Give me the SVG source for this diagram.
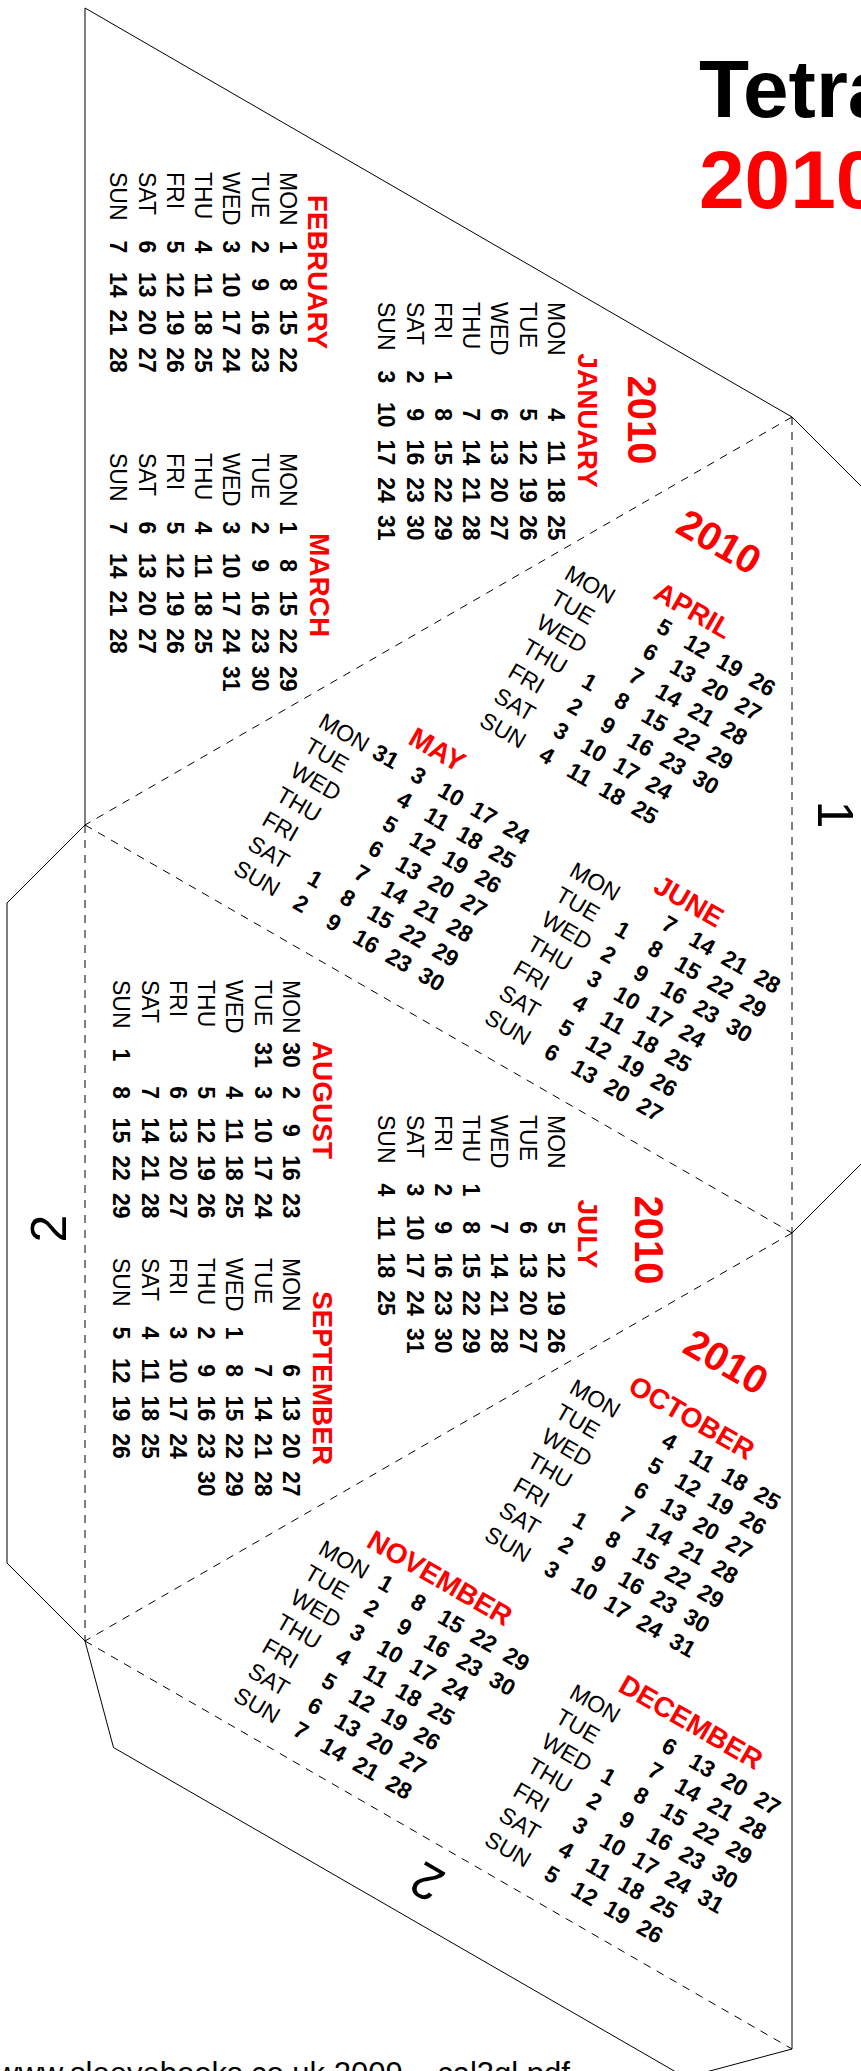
<svg xmlns="http://www.w3.org/2000/svg" width="861" height="2071" viewBox="0 0 861 2071">
<style>
.ln{fill:none;stroke:#000;stroke-width:1}
.fd{fill:none;stroke:#000;stroke-width:1;stroke-dasharray:8 7}
text{font-family:"Liberation Sans",Arial,sans-serif;fill:#000}
.wd{font-size:23px}
.nm{font-size:23px;font-weight:bold;text-anchor:middle}
.mo{font-size:28px;font-weight:bold;fill:#f00;text-anchor:middle}
.yr{font-size:40px;font-weight:bold;fill:#f00;text-anchor:middle}
.tab{font-size:50px;text-anchor:middle}
.ttl{font-size:82px;font-weight:bold}
</style>
<rect width="861" height="2071" fill="#fff"/>
<g id="connectors">
<polygon class="ln" points="85,8 792,417 870,495 870,1155 792,1233 792,2049 685.5,2077.5 113.5,1747.5 85,1641 7,1563 7,903 85,825"/>
<line class="fd" x1="792" y1="417" x2="85" y2="825"/>
<line class="fd" x1="792" y1="417" x2="792" y2="1233"/>
<line class="fd" x1="85" y1="825" x2="792" y2="1233"/>
<line class="fd" x1="85" y1="825" x2="85" y2="1641"/>
<line class="fd" x1="792" y1="1233" x2="85" y2="1641"/>
<line class="fd" x1="85" y1="1641" x2="792" y2="2049"/>
</g>
<g id="title">
<text class="ttl" x="699" y="116.7">Tetra</text>
<text class="ttl" x="699" y="208.3" fill="#f00" style="fill:#f00">2010</text>
</g>
<g id="tab-labels">
<text class="tab" transform="translate(818.3,814.6) rotate(90)">1</text>
<text class="tab" transform="translate(66.4,1228.5) rotate(-90)">2</text>
<text class="tab" transform="translate(435.7,1867) rotate(210)">2</text>
</g>
<g id="footer"><text x="-4" y="2084" font-size="31">www.sleevebooks.co.uk 2009 – cal3gl.pdf</text></g>

<g id="face1">
<g id="jan" transform="translate(548,302) rotate(90)">
<text class="yr" x="118" y="-80">2010</text>
<text class="mo" x="118.5" y="-30">JANUARY</text>
<text class="wd"><tspan x="0" y="0">MON</tspan><tspan x="0" y="28.3">TUE</tspan><tspan x="0" y="56.6">WED</tspan><tspan x="0" y="84.9">THU</tspan><tspan x="0" y="113.2">FRI</tspan><tspan x="0" y="141.5">SAT</tspan><tspan x="0" y="169.8">SUN</tspan></text>
<text class="nm" y="0"><tspan x="112.7">4</tspan><tspan x="150.4">11</tspan><tspan x="188.1">18</tspan><tspan x="225.8">25</tspan></text>
<text class="nm" y="28.3"><tspan x="112.7">5</tspan><tspan x="150.4">12</tspan><tspan x="188.1">19</tspan><tspan x="225.8">26</tspan></text>
<text class="nm" y="56.6"><tspan x="112.7">6</tspan><tspan x="150.4">13</tspan><tspan x="188.1">20</tspan><tspan x="225.8">27</tspan></text>
<text class="nm" y="84.9"><tspan x="112.7">7</tspan><tspan x="150.4">14</tspan><tspan x="188.1">21</tspan><tspan x="225.8">28</tspan></text>
<text class="nm" y="113.2"><tspan x="75">1</tspan><tspan x="112.7">8</tspan><tspan x="150.4">15</tspan><tspan x="188.1">22</tspan><tspan x="225.8">29</tspan></text>
<text class="nm" y="141.5"><tspan x="75">2</tspan><tspan x="112.7">9</tspan><tspan x="150.4">16</tspan><tspan x="188.1">23</tspan><tspan x="225.8">30</tspan></text>
<text class="nm" y="169.8"><tspan x="75">3</tspan><tspan x="112.7">10</tspan><tspan x="150.4">17</tspan><tspan x="188.1">24</tspan><tspan x="225.8">31</tspan></text>
</g>
<g id="feb" transform="translate(280,172) rotate(90)">
<text class="mo" x="100" y="-28">FEBRUARY</text>
<text class="wd"><tspan x="0" y="0">MON</tspan><tspan x="0" y="28.3">TUE</tspan><tspan x="0" y="56.6">WED</tspan><tspan x="0" y="84.9">THU</tspan><tspan x="0" y="113.2">FRI</tspan><tspan x="0" y="141.5">SAT</tspan><tspan x="0" y="169.8">SUN</tspan></text>
<text class="nm" y="0"><tspan x="75">1</tspan><tspan x="112.7">8</tspan><tspan x="150.4">15</tspan><tspan x="188.1">22</tspan></text>
<text class="nm" y="28.3"><tspan x="75">2</tspan><tspan x="112.7">9</tspan><tspan x="150.4">16</tspan><tspan x="188.1">23</tspan></text>
<text class="nm" y="56.6"><tspan x="75">3</tspan><tspan x="112.7">10</tspan><tspan x="150.4">17</tspan><tspan x="188.1">24</tspan></text>
<text class="nm" y="84.9"><tspan x="75">4</tspan><tspan x="112.7">11</tspan><tspan x="150.4">18</tspan><tspan x="188.1">25</tspan></text>
<text class="nm" y="113.2"><tspan x="75">5</tspan><tspan x="112.7">12</tspan><tspan x="150.4">19</tspan><tspan x="188.1">26</tspan></text>
<text class="nm" y="141.5"><tspan x="75">6</tspan><tspan x="112.7">13</tspan><tspan x="150.4">20</tspan><tspan x="188.1">27</tspan></text>
<text class="nm" y="169.8"><tspan x="75">7</tspan><tspan x="112.7">14</tspan><tspan x="150.4">21</tspan><tspan x="188.1">28</tspan></text>
</g>
<g id="mar" transform="translate(280,453) rotate(90)">
<text class="mo" x="132" y="-30">MARCH</text>
<text class="wd"><tspan x="0" y="0">MON</tspan><tspan x="0" y="28.3">TUE</tspan><tspan x="0" y="56.6">WED</tspan><tspan x="0" y="84.9">THU</tspan><tspan x="0" y="113.2">FRI</tspan><tspan x="0" y="141.5">SAT</tspan><tspan x="0" y="169.8">SUN</tspan></text>
<text class="nm" y="0"><tspan x="75">1</tspan><tspan x="112.7">8</tspan><tspan x="150.4">15</tspan><tspan x="188.1">22</tspan><tspan x="225.8">29</tspan></text>
<text class="nm" y="28.3"><tspan x="75">2</tspan><tspan x="112.7">9</tspan><tspan x="150.4">16</tspan><tspan x="188.1">23</tspan><tspan x="225.8">30</tspan></text>
<text class="nm" y="56.6"><tspan x="75">3</tspan><tspan x="112.7">10</tspan><tspan x="150.4">17</tspan><tspan x="188.1">24</tspan><tspan x="225.8">31</tspan></text>
<text class="nm" y="84.9"><tspan x="75">4</tspan><tspan x="112.7">11</tspan><tspan x="150.4">18</tspan><tspan x="188.1">25</tspan></text>
<text class="nm" y="113.2"><tspan x="75">5</tspan><tspan x="112.7">12</tspan><tspan x="150.4">19</tspan><tspan x="188.1">26</tspan></text>
<text class="nm" y="141.5"><tspan x="75">6</tspan><tspan x="112.7">13</tspan><tspan x="150.4">20</tspan><tspan x="188.1">27</tspan></text>
<text class="nm" y="169.8"><tspan x="75">7</tspan><tspan x="112.7">14</tspan><tspan x="150.4">21</tspan><tspan x="188.1">28</tspan></text>
</g>
</g>

<g id="face2">
<g id="apr" transform="translate(563,578) rotate(30)">
<text class="yr" x="117" y="-95.7">2010</text>
<text class="mo" x="129" y="-27.5">APRIL</text>
<text class="wd"><tspan x="0" y="0">MON</tspan><tspan x="0" y="28.3">TUE</tspan><tspan x="0" y="56.6">WED</tspan><tspan x="0" y="84.9">THU</tspan><tspan x="0" y="113.2">FRI</tspan><tspan x="0" y="141.5">SAT</tspan><tspan x="0" y="169.8">SUN</tspan></text>
<text class="nm" y="0"><tspan x="112.7">5</tspan><tspan x="150.4">12</tspan><tspan x="188.1">19</tspan><tspan x="225.8">26</tspan></text>
<text class="nm" y="28.3"><tspan x="112.7">6</tspan><tspan x="150.4">13</tspan><tspan x="188.1">20</tspan><tspan x="225.8">27</tspan></text>
<text class="nm" y="56.6"><tspan x="112.7">7</tspan><tspan x="150.4">14</tspan><tspan x="188.1">21</tspan><tspan x="225.8">28</tspan></text>
<text class="nm" y="84.9"><tspan x="75">1</tspan><tspan x="112.7">8</tspan><tspan x="150.4">15</tspan><tspan x="188.1">22</tspan><tspan x="225.8">29</tspan></text>
<text class="nm" y="113.2"><tspan x="75">2</tspan><tspan x="112.7">9</tspan><tspan x="150.4">16</tspan><tspan x="188.1">23</tspan><tspan x="225.8">30</tspan></text>
<text class="nm" y="141.5"><tspan x="75">3</tspan><tspan x="112.7">10</tspan><tspan x="150.4">17</tspan><tspan x="188.1">24</tspan></text>
<text class="nm" y="169.8"><tspan x="75">4</tspan><tspan x="112.7">11</tspan><tspan x="150.4">18</tspan><tspan x="188.1">25</tspan></text>
</g>
<g id="may" transform="translate(317,726) rotate(30)">
<text class="mo" x="116" y="-30">MAY</text>
<text class="wd"><tspan x="0" y="0">MON</tspan><tspan x="0" y="28.3">TUE</tspan><tspan x="0" y="56.6">WED</tspan><tspan x="0" y="84.9">THU</tspan><tspan x="0" y="113.2">FRI</tspan><tspan x="0" y="141.5">SAT</tspan><tspan x="0" y="169.8">SUN</tspan></text>
<text class="nm" y="0"><tspan x="75">31</tspan><tspan x="112.7">3</tspan><tspan x="150.4">10</tspan><tspan x="188.1">17</tspan><tspan x="225.8">24</tspan></text>
<text class="nm" y="28.3"><tspan x="112.7">4</tspan><tspan x="150.4">11</tspan><tspan x="188.1">18</tspan><tspan x="225.8">25</tspan></text>
<text class="nm" y="56.6"><tspan x="112.7">5</tspan><tspan x="150.4">12</tspan><tspan x="188.1">19</tspan><tspan x="225.8">26</tspan></text>
<text class="nm" y="84.9"><tspan x="112.7">6</tspan><tspan x="150.4">13</tspan><tspan x="188.1">20</tspan><tspan x="225.8">27</tspan></text>
<text class="nm" y="113.2"><tspan x="112.7">7</tspan><tspan x="150.4">14</tspan><tspan x="188.1">21</tspan><tspan x="225.8">28</tspan></text>
<text class="nm" y="141.5"><tspan x="75">1</tspan><tspan x="112.7">8</tspan><tspan x="150.4">15</tspan><tspan x="188.1">22</tspan><tspan x="225.8">29</tspan></text>
<text class="nm" y="169.8"><tspan x="75">2</tspan><tspan x="112.7">9</tspan><tspan x="150.4">16</tspan><tspan x="188.1">23</tspan><tspan x="225.8">30</tspan></text>
</g>
<g id="jun" transform="translate(568,875) rotate(30)">
<text class="mo" x="118" y="-28">JUNE</text>
<text class="wd"><tspan x="0" y="0">MON</tspan><tspan x="0" y="28.3">TUE</tspan><tspan x="0" y="56.6">WED</tspan><tspan x="0" y="84.9">THU</tspan><tspan x="0" y="113.2">FRI</tspan><tspan x="0" y="141.5">SAT</tspan><tspan x="0" y="169.8">SUN</tspan></text>
<text class="nm" y="0"><tspan x="112.7">7</tspan><tspan x="150.4">14</tspan><tspan x="188.1">21</tspan><tspan x="225.8">28</tspan></text>
<text class="nm" y="28.3"><tspan x="75">1</tspan><tspan x="112.7">8</tspan><tspan x="150.4">15</tspan><tspan x="188.1">22</tspan><tspan x="225.8">29</tspan></text>
<text class="nm" y="56.6"><tspan x="75">2</tspan><tspan x="112.7">9</tspan><tspan x="150.4">16</tspan><tspan x="188.1">23</tspan><tspan x="225.8">30</tspan></text>
<text class="nm" y="84.9"><tspan x="75">3</tspan><tspan x="112.7">10</tspan><tspan x="150.4">17</tspan><tspan x="188.1">24</tspan></text>
<text class="nm" y="113.2"><tspan x="75">4</tspan><tspan x="112.7">11</tspan><tspan x="150.4">18</tspan><tspan x="188.1">25</tspan></text>
<text class="nm" y="141.5"><tspan x="75">5</tspan><tspan x="112.7">12</tspan><tspan x="150.4">19</tspan><tspan x="188.1">26</tspan></text>
<text class="nm" y="169.8"><tspan x="75">6</tspan><tspan x="112.7">13</tspan><tspan x="150.4">20</tspan><tspan x="188.1">27</tspan></text>
</g>
</g>

<g id="face3">
<g id="jul" transform="translate(548,1115) rotate(90)">
<text class="yr" x="125" y="-87">2010</text>
<text class="mo" x="119" y="-30">JULY</text>
<text class="wd"><tspan x="0" y="0">MON</tspan><tspan x="0" y="28.3">TUE</tspan><tspan x="0" y="56.6">WED</tspan><tspan x="0" y="84.9">THU</tspan><tspan x="0" y="113.2">FRI</tspan><tspan x="0" y="141.5">SAT</tspan><tspan x="0" y="169.8">SUN</tspan></text>
<text class="nm" y="0"><tspan x="112.7">5</tspan><tspan x="150.4">12</tspan><tspan x="188.1">19</tspan><tspan x="225.8">26</tspan></text>
<text class="nm" y="28.3"><tspan x="112.7">6</tspan><tspan x="150.4">13</tspan><tspan x="188.1">20</tspan><tspan x="225.8">27</tspan></text>
<text class="nm" y="56.6"><tspan x="112.7">7</tspan><tspan x="150.4">14</tspan><tspan x="188.1">21</tspan><tspan x="225.8">28</tspan></text>
<text class="nm" y="84.9"><tspan x="75">1</tspan><tspan x="112.7">8</tspan><tspan x="150.4">15</tspan><tspan x="188.1">22</tspan><tspan x="225.8">29</tspan></text>
<text class="nm" y="113.2"><tspan x="75">2</tspan><tspan x="112.7">9</tspan><tspan x="150.4">16</tspan><tspan x="188.1">23</tspan><tspan x="225.8">30</tspan></text>
<text class="nm" y="141.5"><tspan x="75">3</tspan><tspan x="112.7">10</tspan><tspan x="150.4">17</tspan><tspan x="188.1">24</tspan><tspan x="225.8">31</tspan></text>
<text class="nm" y="169.8"><tspan x="75">4</tspan><tspan x="112.7">11</tspan><tspan x="150.4">18</tspan><tspan x="188.1">25</tspan></text>
</g>
<g id="aug" transform="translate(283,980) rotate(90)">
<text class="mo" x="120" y="-30">AUGUST</text>
<text class="wd"><tspan x="0" y="0">MON</tspan><tspan x="0" y="28.3">TUE</tspan><tspan x="0" y="56.6">WED</tspan><tspan x="0" y="84.9">THU</tspan><tspan x="0" y="113.2">FRI</tspan><tspan x="0" y="141.5">SAT</tspan><tspan x="0" y="169.8">SUN</tspan></text>
<text class="nm" y="0"><tspan x="75">30</tspan><tspan x="112.7">2</tspan><tspan x="150.4">9</tspan><tspan x="188.1">16</tspan><tspan x="225.8">23</tspan></text>
<text class="nm" y="28.3"><tspan x="75">31</tspan><tspan x="112.7">3</tspan><tspan x="150.4">10</tspan><tspan x="188.1">17</tspan><tspan x="225.8">24</tspan></text>
<text class="nm" y="56.6"><tspan x="112.7">4</tspan><tspan x="150.4">11</tspan><tspan x="188.1">18</tspan><tspan x="225.8">25</tspan></text>
<text class="nm" y="84.9"><tspan x="112.7">5</tspan><tspan x="150.4">12</tspan><tspan x="188.1">19</tspan><tspan x="225.8">26</tspan></text>
<text class="nm" y="113.2"><tspan x="112.7">6</tspan><tspan x="150.4">13</tspan><tspan x="188.1">20</tspan><tspan x="225.8">27</tspan></text>
<text class="nm" y="141.5"><tspan x="112.7">7</tspan><tspan x="150.4">14</tspan><tspan x="188.1">21</tspan><tspan x="225.8">28</tspan></text>
<text class="nm" y="169.8"><tspan x="75">1</tspan><tspan x="112.7">8</tspan><tspan x="150.4">15</tspan><tspan x="188.1">22</tspan><tspan x="225.8">29</tspan></text>
</g>
<g id="sep" transform="translate(283,1258) rotate(90)">
<text class="mo" x="120" y="-30">SEPTEMBER</text>
<text class="wd"><tspan x="0" y="0">MON</tspan><tspan x="0" y="28.3">TUE</tspan><tspan x="0" y="56.6">WED</tspan><tspan x="0" y="84.9">THU</tspan><tspan x="0" y="113.2">FRI</tspan><tspan x="0" y="141.5">SAT</tspan><tspan x="0" y="169.8">SUN</tspan></text>
<text class="nm" y="0"><tspan x="112.7">6</tspan><tspan x="150.4">13</tspan><tspan x="188.1">20</tspan><tspan x="225.8">27</tspan></text>
<text class="nm" y="28.3"><tspan x="112.7">7</tspan><tspan x="150.4">14</tspan><tspan x="188.1">21</tspan><tspan x="225.8">28</tspan></text>
<text class="nm" y="56.6"><tspan x="75">1</tspan><tspan x="112.7">8</tspan><tspan x="150.4">15</tspan><tspan x="188.1">22</tspan><tspan x="225.8">29</tspan></text>
<text class="nm" y="84.9"><tspan x="75">2</tspan><tspan x="112.7">9</tspan><tspan x="150.4">16</tspan><tspan x="188.1">23</tspan><tspan x="225.8">30</tspan></text>
<text class="nm" y="113.2"><tspan x="75">3</tspan><tspan x="112.7">10</tspan><tspan x="150.4">17</tspan><tspan x="188.1">24</tspan></text>
<text class="nm" y="141.5"><tspan x="75">4</tspan><tspan x="112.7">11</tspan><tspan x="150.4">18</tspan><tspan x="188.1">25</tspan></text>
<text class="nm" y="169.8"><tspan x="75">5</tspan><tspan x="112.7">12</tspan><tspan x="150.4">19</tspan><tspan x="188.1">26</tspan></text>
</g>
</g>

<g id="face4">
<g id="oct" transform="translate(568,1392) rotate(30)">
<text class="yr" x="122" y="-91.4">2010</text>
<text class="mo" x="120" y="-30">OCTOBER</text>
<text class="wd"><tspan x="0" y="0">MON</tspan><tspan x="0" y="28.3">TUE</tspan><tspan x="0" y="56.6">WED</tspan><tspan x="0" y="84.9">THU</tspan><tspan x="0" y="113.2">FRI</tspan><tspan x="0" y="141.5">SAT</tspan><tspan x="0" y="169.8">SUN</tspan></text>
<text class="nm" y="0"><tspan x="112.7">4</tspan><tspan x="150.4">11</tspan><tspan x="188.1">18</tspan><tspan x="225.8">25</tspan></text>
<text class="nm" y="28.3"><tspan x="112.7">5</tspan><tspan x="150.4">12</tspan><tspan x="188.1">19</tspan><tspan x="225.8">26</tspan></text>
<text class="nm" y="56.6"><tspan x="112.7">6</tspan><tspan x="150.4">13</tspan><tspan x="188.1">20</tspan><tspan x="225.8">27</tspan></text>
<text class="nm" y="84.9"><tspan x="112.7">7</tspan><tspan x="150.4">14</tspan><tspan x="188.1">21</tspan><tspan x="225.8">28</tspan></text>
<text class="nm" y="113.2"><tspan x="75">1</tspan><tspan x="112.7">8</tspan><tspan x="150.4">15</tspan><tspan x="188.1">22</tspan><tspan x="225.8">29</tspan></text>
<text class="nm" y="141.5"><tspan x="75">2</tspan><tspan x="112.7">9</tspan><tspan x="150.4">16</tspan><tspan x="188.1">23</tspan><tspan x="225.8">30</tspan></text>
<text class="nm" y="169.8"><tspan x="75">3</tspan><tspan x="112.7">10</tspan><tspan x="150.4">17</tspan><tspan x="188.1">24</tspan><tspan x="225.8">31</tspan></text>
</g>
<g id="nov" transform="translate(317,1553) rotate(30)">
<text class="mo" x="119" y="-30">NOVEMBER</text>
<text class="wd"><tspan x="0" y="0">MON</tspan><tspan x="0" y="28.3">TUE</tspan><tspan x="0" y="56.6">WED</tspan><tspan x="0" y="84.9">THU</tspan><tspan x="0" y="113.2">FRI</tspan><tspan x="0" y="141.5">SAT</tspan><tspan x="0" y="169.8">SUN</tspan></text>
<text class="nm" y="0"><tspan x="75">1</tspan><tspan x="112.7">8</tspan><tspan x="150.4">15</tspan><tspan x="188.1">22</tspan><tspan x="225.8">29</tspan></text>
<text class="nm" y="28.3"><tspan x="75">2</tspan><tspan x="112.7">9</tspan><tspan x="150.4">16</tspan><tspan x="188.1">23</tspan><tspan x="225.8">30</tspan></text>
<text class="nm" y="56.6"><tspan x="75">3</tspan><tspan x="112.7">10</tspan><tspan x="150.4">17</tspan><tspan x="188.1">24</tspan></text>
<text class="nm" y="84.9"><tspan x="75">4</tspan><tspan x="112.7">11</tspan><tspan x="150.4">18</tspan><tspan x="188.1">25</tspan></text>
<text class="nm" y="113.2"><tspan x="75">5</tspan><tspan x="112.7">12</tspan><tspan x="150.4">19</tspan><tspan x="188.1">26</tspan></text>
<text class="nm" y="141.5"><tspan x="75">6</tspan><tspan x="112.7">13</tspan><tspan x="150.4">20</tspan><tspan x="188.1">27</tspan></text>
<text class="nm" y="169.8"><tspan x="75">7</tspan><tspan x="112.7">14</tspan><tspan x="150.4">21</tspan><tspan x="188.1">28</tspan></text>
</g>
<g id="dec" transform="translate(568,1697) rotate(30)">
<text class="mo" x="119" y="-30">DECEMBER</text>
<text class="wd"><tspan x="0" y="0">MON</tspan><tspan x="0" y="28.3">TUE</tspan><tspan x="0" y="56.6">WED</tspan><tspan x="0" y="84.9">THU</tspan><tspan x="0" y="113.2">FRI</tspan><tspan x="0" y="141.5">SAT</tspan><tspan x="0" y="169.8">SUN</tspan></text>
<text class="nm" y="0"><tspan x="112.7">6</tspan><tspan x="150.4">13</tspan><tspan x="188.1">20</tspan><tspan x="225.8">27</tspan></text>
<text class="nm" y="28.3"><tspan x="112.7">7</tspan><tspan x="150.4">14</tspan><tspan x="188.1">21</tspan><tspan x="225.8">28</tspan></text>
<text class="nm" y="56.6"><tspan x="75">1</tspan><tspan x="112.7">8</tspan><tspan x="150.4">15</tspan><tspan x="188.1">22</tspan><tspan x="225.8">29</tspan></text>
<text class="nm" y="84.9"><tspan x="75">2</tspan><tspan x="112.7">9</tspan><tspan x="150.4">16</tspan><tspan x="188.1">23</tspan><tspan x="225.8">30</tspan></text>
<text class="nm" y="113.2"><tspan x="75">3</tspan><tspan x="112.7">10</tspan><tspan x="150.4">17</tspan><tspan x="188.1">24</tspan><tspan x="225.8">31</tspan></text>
<text class="nm" y="141.5"><tspan x="75">4</tspan><tspan x="112.7">11</tspan><tspan x="150.4">18</tspan><tspan x="188.1">25</tspan></text>
<text class="nm" y="169.8"><tspan x="75">5</tspan><tspan x="112.7">12</tspan><tspan x="150.4">19</tspan><tspan x="188.1">26</tspan></text>
</g>
</g>
</svg>
